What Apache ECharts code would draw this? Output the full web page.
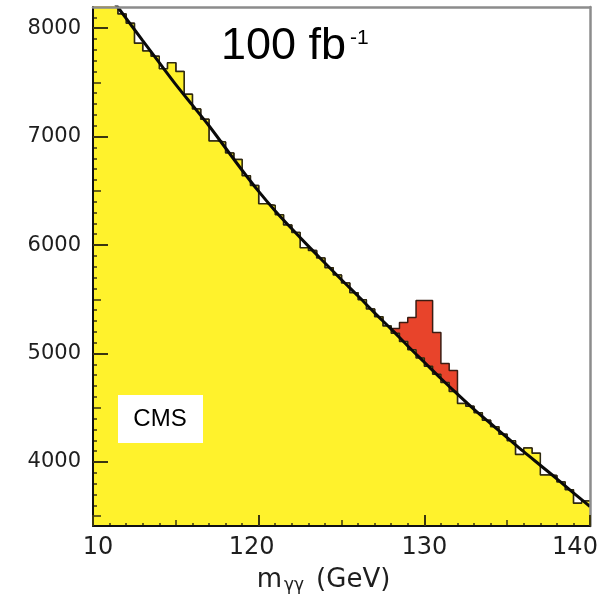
<!DOCTYPE html>
<html><head><meta charset="utf-8">
<script src="https://cdn.jsdelivr.net/npm/echarts@6/dist/echarts.min.js"></script>
<style>html,body{margin:0;padding:0;background:#fff}#c{width:607px;height:596px}</style>
</head><body><div id="c"></div>
<script>
// ---- data ----
const binStart = 110;      // GeV, first bin low edge
const binWidth = 0.5;      // GeV
const background = [
  8449, 8346, 8250, 8130, 8045, 7860, 7790, 7740, 7625, 7680,
  7600, 7390, 7255, 7160, 6960, 6950, 6850, 6790, 6640, 6550,
  6380, 6365, 6280, 6185, 6115, 5975, 5950, 5880, 5790, 5725,
  5650, 5560, 5495, 5410, 5340, 5255, 5186, 5110, 5035, 4958,
  4883, 4808, 4734, 4650, 4540, 4515, 4455, 4385, 4325, 4255,
  4195, 4070, 4130, 4080, 3880, 3875, 3815, 3745, 3620, 3640
];
const signalStart = 128;   // GeV, low edge of first signal bin
const signal = [44, 176, 297, 530, 605, 386, 174, 193];
const fitMass = [110,111,112,113,114,115,116,117,118,119,120,121,122,123,124,125,126,127,128,129,130,131,132,133,134,135,136,137,138,139,140];
const fitValues = [8500,8295,8090,7885,7682,7480,7290,7100,6895,6690,6495,6315,6150,5990,5835,5680,5530,5375,5225,5070,4920,4770,4625,4485,4355,4225,4095,3970,3845,3715,3590];
const xTickValues = [110, 120, 130, 140];
const xTickLabels = ['10', '120', '130', '140'];
const xMediumTicks = [115, 125, 135];
const yTickValues = [4000, 5000, 6000, 7000, 8000];
const yTickLabels = ['4000', '5000', '6000', '7000', '8000'];
const yMediumTicks = [3500, 4500, 5500, 6500, 7500];

// ---- build series data ----
const xMin = 110, xMax = 140, yMin = 3410, yMax = 8195;
const edges = background.map((_, i) => binStart + i * binWidth);
const lastEdge = binStart + background.length * binWidth;
const bgData = background.map((v, i) => [edges[i], v]);
bgData.push([lastEdge, background[background.length - 1]]);
const total = background.map((v, i) => {
  const k = Math.round((edges[i] - signalStart) / binWidth);
  return v + (k >= 0 && k < signal.length ? signal[k] : 0);
});
const totData = total.map((v, i) => [edges[i], v]);
totData.push([lastEdge, total[total.length - 1]]);
const fitData = fitMass.map((m, i) => [m, fitValues[i]]);

const xMinor = [];
for (let v = xMin + 1; v < xMax; v++) if (v % 5 !== 0) xMinor.push(v);
const yMinor = [];
for (let v = 3500; v < yMax; v += 100) if (v % 500 !== 0) yMinor.push(v);

const FONT = 'DejaVu Sans';
const hidden = { show: false };
const tickColor = '#3a3510';
const labelColor = '#1e1e1e';
// per-label horizontal nudges (rich padding keys) for the x tick labels
const xLabelStyle = ['l', 'r1', 'c', 'r2'];
function extraX(vals, len, pos) {
  return { type: 'value', min: xMin, max: xMax, position: pos || 'bottom', z: 6,
    axisLine: hidden, axisLabel: hidden, splitLine: hidden,
    axisTick: { inside: true, length: len, customValues: vals, lineStyle: { color: tickColor, width: 1.5 } } };
}
function extraY(vals, len) {
  return { type: 'value', min: yMin, max: yMax, position: 'left', z: 6,
    axisLine: hidden, axisLabel: hidden, splitLine: hidden,
    axisTick: { inside: true, length: len, customValues: vals, lineStyle: { color: tickColor, width: 1.5 } } };
}
const xl = { fontSize: 24, fontFamily: FONT, color: labelColor };

const chart = echarts.init(document.getElementById('c'), null, { renderer: 'canvas' });
chart.setOption({
  animation: false,
  backgroundColor: '#fff',
  grid: { left: 93, right: 17, top: 7, bottom: 70, containLabel: false, outerBoundsMode: 'none' },
  xAxis: [
    { type: 'value', min: xMin, max: xMax, interval: 10, position: 'bottom', z: 7,
      axisLine: { lineStyle: { color: '#111', width: 2 } },
      axisTick: { inside: true, length: 11, lineStyle: { color: tickColor, width: 2 } },
      axisLabel: { margin: 10, fontSize: 24, fontFamily: FONT, color: labelColor,
        formatter: v => { const i = xTickValues.indexOf(v); return i >= 0 ? '{' + xLabelStyle[i] + '|' + xTickLabels[i] + '}' : ''; },
        rich: { l: Object.assign({ padding: [0, 0, 0, 10] }, xl),
                r1: Object.assign({ padding: [0, 14, 0, 0] }, xl),
                c: Object.assign({}, xl),
                r2: Object.assign({ padding: [0, 30, 0, 0] }, xl) } },
      splitLine: hidden,
      name: '{m|m}{s|γγ}{n|(GeV)}', nameLocation: 'middle', nameGap: 41,
      nameTextStyle: { color: labelColor, fontFamily: FONT, padding: [0, 36, 0, 0],
        rich: { m: { fontSize: 26, fontFamily: FONT, color: labelColor },
                s: { fontSize: 17, fontFamily: FONT, color: labelColor, padding: [10, 2, 0, 2] },
                n: { fontSize: 26, fontFamily: FONT, color: labelColor, padding: [0, 0, 0, 10] } } } },
    extraX(xMediumTicks, 6),
    extraX(xMinor, 3),
    { type: 'value', min: xMin, max: xMax, position: 'top', z: 7,
      axisLine: { lineStyle: { color: '#8c8c8c', width: 2.5 } },
      axisTick: hidden, axisLabel: hidden, splitLine: hidden }
  ],
  yAxis: [
    { type: 'value', min: yMin, max: yMax, position: 'left', z: 7,
      axisLine: { lineStyle: { color: '#111', width: 2 } },
      axisTick: { inside: true, length: 15, customValues: yTickValues, lineStyle: { color: tickColor, width: 2 } },
      axisLabel: { customValues: yTickValues, margin: 12, fontSize: 21, fontFamily: FONT, color: labelColor,
        formatter: v => { const i = yTickValues.indexOf(v); return i >= 0 ? yTickLabels[i] : ''; } },
      splitLine: hidden },
    extraY(yMediumTicks, 8),
    extraY(yMinor, 4),
    { type: 'value', min: yMin, max: yMax, position: 'right', z: 7,
      axisLine: { lineStyle: { color: '#8c8c8c', width: 2.5 } },
      axisTick: hidden, axisLabel: hidden, splitLine: hidden }
  ],
  series: [
    { type: 'line', name: 'signal', step: 'end', data: totData, symbol: 'none', z: 2,
      lineStyle: { color: '#3a1c12', width: 1.5 },
      areaStyle: { color: '#E8442B', opacity: 1, origin: 'start' } },
    { type: 'line', name: 'background', step: 'end', data: bgData, symbol: 'none', z: 3,
      lineStyle: { color: '#2e2a10', width: 1.5 },
      areaStyle: { color: '#FFF22C', opacity: 1, origin: 'start' } },
    { type: 'line', name: 'fit', data: fitData, symbol: 'none', smooth: 0.3, z: 4,
      lineStyle: { color: '#0a0a0a', width: 3 } }
  ],
  graphic: [
    { type: 'text', left: 221, top: 24, z: 10,
      style: { text: '{a|100 fb}{b|-1}', fill: '#000',
        rich: { a: { fontSize: 45, fontFamily: 'Liberation Sans', fill: '#000' },
                b: { fontSize: 21, fontFamily: 'Liberation Sans', fill: '#000', verticalAlign: 'top', padding: [4, 0, 0, 4] } } } },
    { type: 'rect', z: 10, shape: { x: 118, y: 395, width: 85, height: 48 }, style: { fill: '#fff' } },
    { type: 'text', z: 11, x: 160, y: 419,
      style: { text: 'CMS', fontSize: 24, fontFamily: 'Liberation Sans', fill: '#000', align: 'center', verticalAlign: 'middle' } }
  ]
});
</script></body></html>
